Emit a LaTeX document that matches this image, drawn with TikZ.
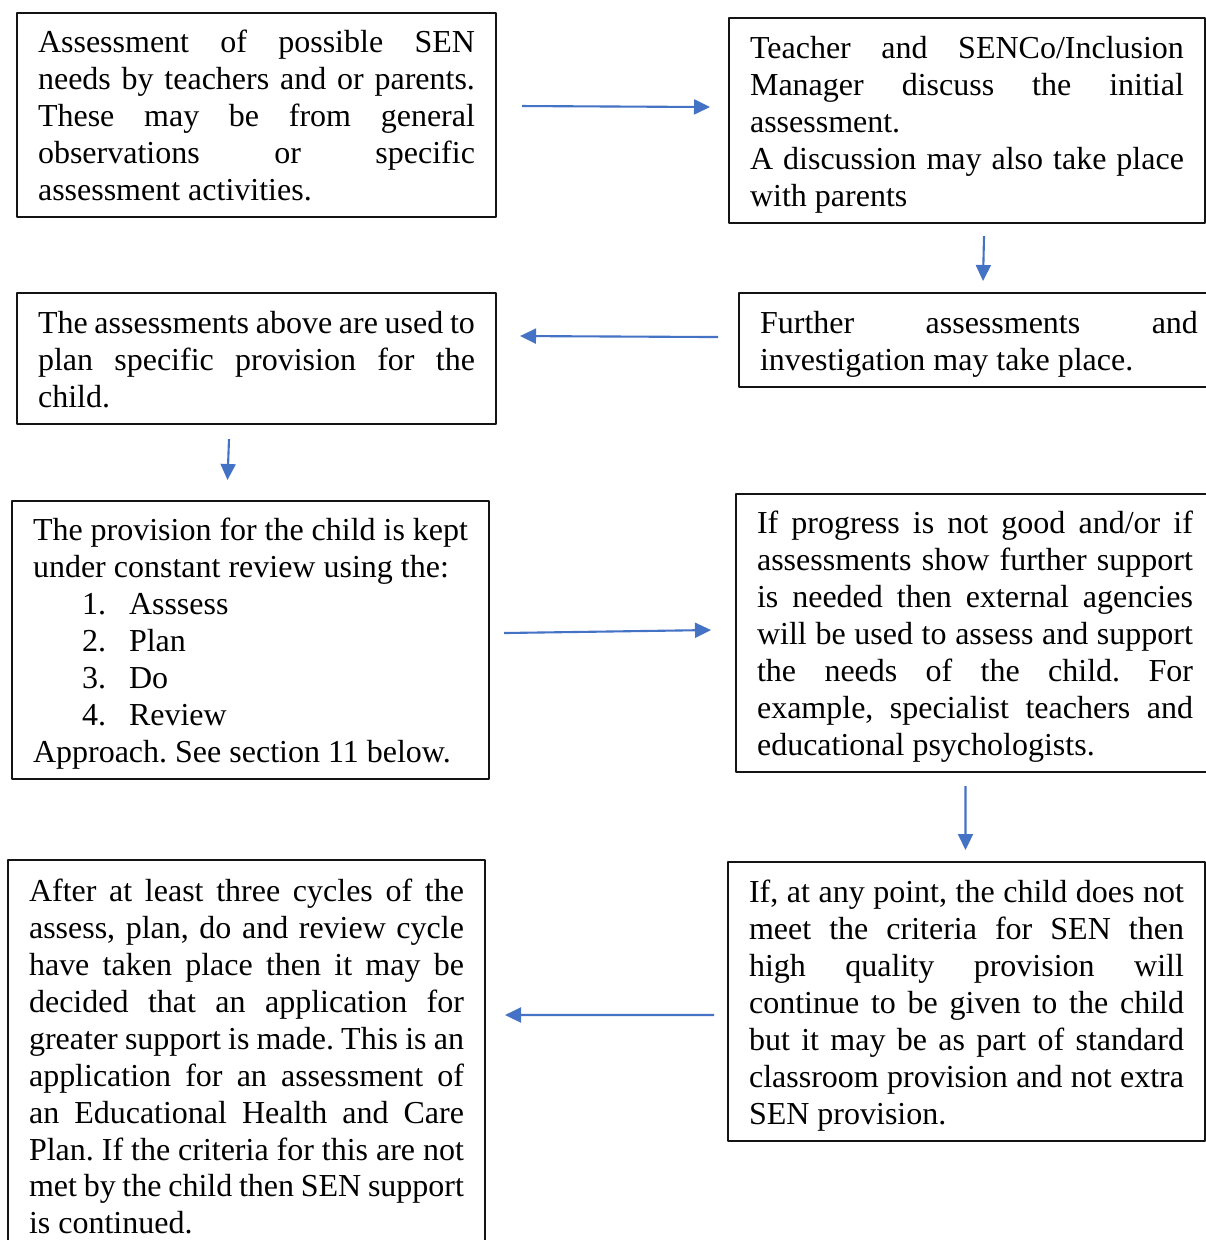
\documentclass[tikz,border=0pt]{standalone}
\usepackage{fontspec}
\setmainfont{Liberation Serif}
\frenchspacing
\usetikzlibrary{arrows.meta}
\definecolor{arrowBlue}{RGB}{68,114,196}
\definecolor{boxLine}{RGB}{20,20,20}
\newcommand\boxtopstrut{\rule{0pt}{0.68cm}}
\newcommand\boxbotstrut{\rule[-0.22cm]{0pt}{0pt}}
\newcommand\listitem[2]{\hspace*{0.98cm}\makebox[0.94cm][l]{#1}#2}

\begin{document}
\begin{tikzpicture}[x=0.02cm,y=-0.02cm,line join=round,
  flowbox/.style={draw=boxLine,line width=1.2pt,anchor=north west,
    inner xsep=0.42cm,inner ysep=0pt,align=justify,
    font=\fontsize{0.64cm}{0.74cm}\selectfont\frenchspacing,
    execute at begin node=\boxtopstrut,
    execute at end node=\boxbotstrut},
  flowarrow/.style={draw=arrowBlue,line width=1.2pt,
    -{Triangle[length=0.32cm,width=0.3cm]}}]

% fixed canvas, 1206 x 1240 "pixels"
\path[use as bounding box] (0,0) rectangle (1206,1240);

% left column boxes
\node[flowbox,text width=8.74cm,minimum height=4.08cm] (assess) at (16,12)
  {Assessment of possible SEN\linebreak
   needs by teachers and or parents.\linebreak
   These may be from general\linebreak
   observations or specific\linebreak
   assessment activities.};

\node[flowbox,text width=8.74cm,minimum height=2.62cm] (planning) at (16,292)
  {The assessments above are used to\linebreak
   plan specific provision for the\linebreak
   child.};

\node[flowbox,text width=8.70cm,minimum height=5.56cm] (review) at (11,500)
  {The provision for the child is kept\linebreak
   under constant review using the:\\
   \listitem{1.}{Asssess}\\
   \listitem{2.}{Plan}\\
   \listitem{3.}{Do}\\
   \listitem{4.}{Review}\\
   Approach. See section 11 below.};

\node[flowbox,text width=8.70cm,minimum height=7.84cm] (ehcp) at (7,859)
  {After at least three cycles of the\linebreak
   assess, plan, do and review cycle\linebreak
   have taken place then it may be\linebreak
   decided that an application for\linebreak
   greater support is made. This is an\linebreak
   application for an assessment of\linebreak
   an Educational Health and Care\linebreak
   Plan. If the criteria for this are not\linebreak
   met by the child then SEN support\linebreak
   is continued.};

% right column boxes
\node[flowbox,text width=8.68cm,minimum height=4.10cm] (teacher) at (728,17)
  {Teacher and SENCo/Inclusion\linebreak
   Manager discuss the initial\linebreak
   assessment.\par
   A discussion may also take place\linebreak
   with parents};

\node[flowbox,text width=8.76cm,minimum height=1.88cm] (further) at (738,292)
  {Further assessments and\linebreak
   investigation may take place.};

\node[flowbox,text width=8.72cm,minimum height=5.56cm] (external) at (735,493)
  {If progress is not good and/or if\linebreak
   assessments show further support\linebreak
   is needed then external agencies\linebreak
   will be used to assess and support\linebreak
   the needs of the child. For\linebreak
   example, specialist teachers and\linebreak
   educational psychologists.};

\node[flowbox,text width=8.70cm,minimum height=5.58cm] (quality) at (727,861)
  {If, at any point, the child does not\linebreak
   meet the criteria for SEN then\linebreak
   high quality provision will\linebreak
   continue to be given to the child\linebreak
   but it may be as part of standard\linebreak
   classroom provision and not extra\linebreak
   SEN provision.};

% arrows between the boxes (they stop short of the borders)
\draw[flowarrow] ([shift={(25,-9)}]assess.east) -- ([shift={(-18,-13.5)}]teacher.west);
\draw[flowarrow] ([shift={(17,12)}]teacher.south) -- ([shift={(4,-11)}]further.north);
\draw[flowarrow] ([shift={(-20,-3)}]further.west) -- ([shift={(23,-22.5)}]planning.east);
\draw[flowarrow] ([shift={(-27.5,14)}]planning.south) -- ([shift={(-23,-20)}]review.north);
\draw[flowarrow] ([shift={(14,-7)}]review.east) -- ([shift={(-24,-3)}]external.west);
\draw[flowarrow] ([shift={(-9.5,13)}]external.south) -- ([shift={(-1,-11)}]quality.north);
\draw[flowarrow] ([shift={(-13,13.5)}]quality.west) -- ([shift={(19,-41)}]ehcp.east);

\end{tikzpicture}
\end{document}
